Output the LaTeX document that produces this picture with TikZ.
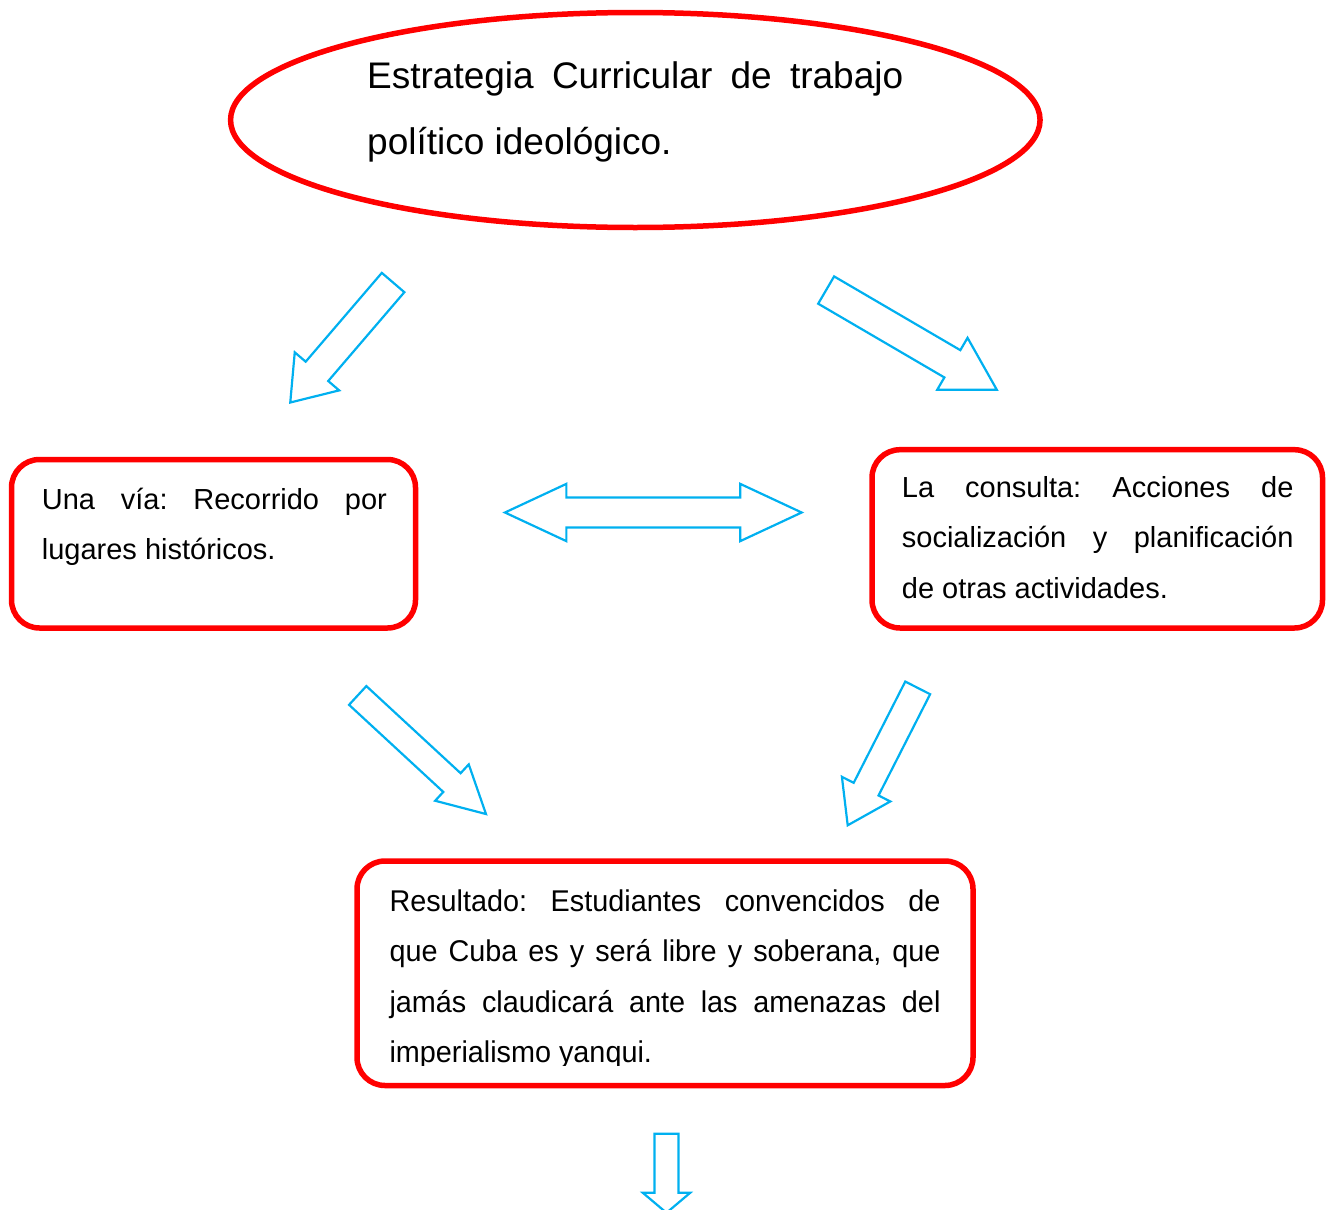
\documentclass[tikz,border=0pt]{standalone}
\usepackage{fontspec}
\setmainfont{Liberation Sans}
\newfontfamily\narrowfont[FakeStretch=0.96]{Liberation Sans}
\usetikzlibrary{shapes.geometric,shapes.arrows}
\definecolor{azul}{RGB}{0,176,240}
\frenchspacing

\begin{document}
\begin{tikzpicture}[x=1pt, y=-1pt,
        caja/.style={draw=red, line width=5.5pt, rounded corners=28pt, inner sep=0pt},
        texto/.style={anchor=north west, inner sep=0pt, align=justify},
        flecha/.style={single arrow, draw=azul, line width=2.2pt, inner sep=0pt, minimum width=0pt, single arrow head indent=0pt, anchor=tail}]

        \useasboundingbox (0,0) rectangle (1331,1210);

        \node[ellipse, draw=red, line width=5.5pt, minimum width=809.5pt, minimum height=215pt] (estrategia) at (635.3,120) {};
        \node[texto, text width=536pt, font=\fontsize{37}{66}\selectfont] (titulo) at (367,41.8) {\strut Estrategia Curricular de trabajo\linebreak político ideológico.};

        \node[caja, minimum width=404pt, minimum height=168.5pt] (via) at (213.5,543.75) {};
        \node[texto, text width=345pt, font=\fontsize{29}{50}\selectfont] (viatexto) at (41.7,474) {\strut Una vía: Recorrido por\linebreak lugares históricos.};

        \node[caja, minimum width=450.5pt, minimum height=178.3pt] (consulta) at (1097.25,538.85) {};
        \node[texto, text width=391.6pt, font=\fontsize{29}{50.5}\selectfont] (consultatexto) at (901.7,461.7) {\strut La consulta: Acciones de\linebreak socialización y planificación\linebreak de otras actividades.};

        \node[caja, minimum width=616pt, minimum height=224.5pt] (resultado) at (665,973.25) {};
        \begin{scope}
            \clip (357,850) rectangle (975,1065);
            \node[texto, text width=551pt, font=\narrowfont\fontsize{30}{50.5}\selectfont] (resultadotexto) at (389.3,875.6) {\strut Resultado: Estudiantes convencidos de\linebreak que Cuba es y será libre y soberana, que\linebreak jamás claudicará ante las amenazas del\linebreak imperialismo yanqui.};
        \end{scope}

        \node[flecha, rotate=229.4, minimum height=158pt, inner ysep=13.75pt, single arrow head extend=14.4pt, single arrow tip angle=71] (f1) at (393.8,281.7) {};
        \node[flecha, rotate=-30.3, minimum height=197.7pt, inner ysep=14.7pt, single arrow head extend=14.3pt, single arrow tip angle=60.6] (f2) at (825.2,289.5) {};
        \node[double arrow, draw=azul, line width=2.2pt, inner sep=0pt, inner ysep=13.85pt, minimum width=0pt, minimum height=296.7pt, double arrow head extend=13.7pt, double arrow tip angle=50, double arrow head indent=0pt] (f3) at (653.3,512.5) {};
        \node[flecha, rotate=-42.75, minimum height=174.7pt, inner ysep=11.65pt, single arrow head extend=12pt, single arrow tip angle=56.2] (f4) at (356.9,694.7) {};
        \node[flecha, rotate=243, minimum height=154.2pt, inner ysep=12.85pt, single arrow head extend=13.2pt, single arrow tip angle=67.6] (f5) at (918.2,686.9) {};
        \node[flecha, rotate=-90, minimum height=79pt, inner ysep=10.85pt, single arrow head extend=11.7pt, single arrow tip angle=99.6] (f6) at (666.5,1132.7) {};

    \end{tikzpicture}
\end{document}
